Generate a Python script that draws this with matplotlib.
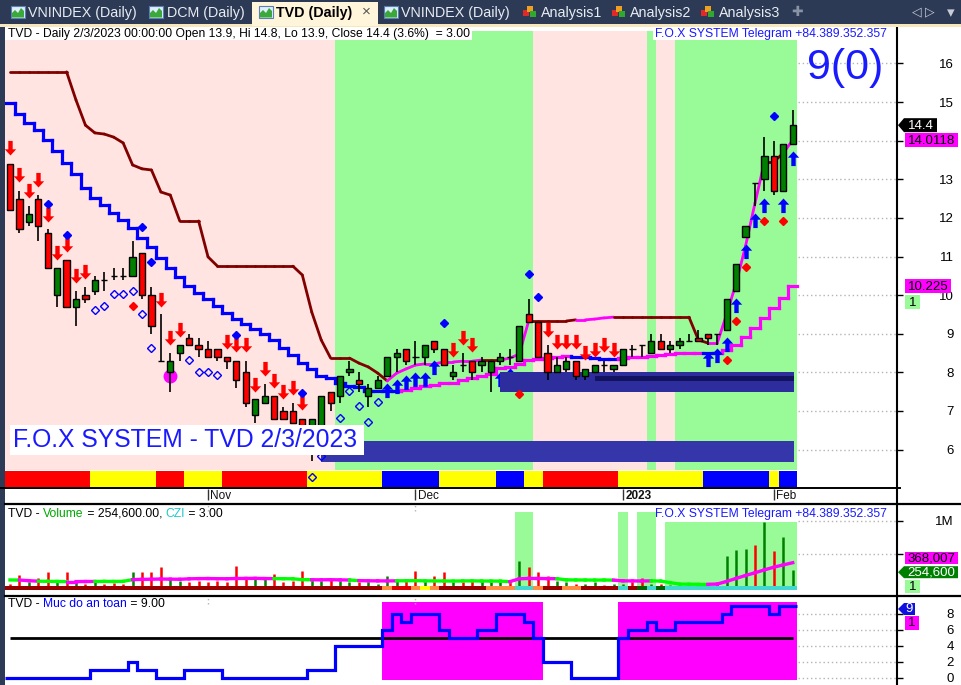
import numpy as np
import matplotlib
matplotlib.use("Agg")
import matplotlib.pyplot as plt
from matplotlib.patches import Rectangle, Polygon
from matplotlib.path import Path
from matplotlib.markers import MarkerStyle
from matplotlib.collections import LineCollection
from matplotlib.lines import Line2D
from matplotlib.transforms import IdentityTransform

plt.rcParams['font.family'] = ['Liberation Sans', 'DejaVu Sans']

# ---------------------------------------------------------------- data
month_pos = [21, 43, 65, 81]
month_labels = ['Nov', 'Dec', '2023', 'Feb']

opens = [13.4, 12.5, 11.9, 12.5, 11.6, 10.0, 10.9, 9.7, 10.0, 10.1,
         10.4, 10.5, 10.5, 10.5, 11.1, 10.0, 8.3, 8.0, 8.5, 8.9,
         8.7, 8.6, 8.6, 8.4, 8.3, 8.0, 6.9, 7.2, 7.4, 7.0,
         7.0, 6.8, 6.1, 6.6, 7.5, 7.4, 8.0, 7.8, 7.4, 7.6,
         7.9, 8.4, 8.6, 8.4, 8.4, 8.8, 8.6, 7.9, 8.2, 8.3,
         8.2, 8.0, 8.3, 8.4, 8.3, 9.5, 9.3, 8.5, 8.0, 8.1,
         8.3, 7.9, 8.0, 8.2, 8.1, 8.2, 8.6, 8.7, 8.5, 8.8,
         8.6, 8.7, 8.8, 8.9, 9.0, 9.0, 9.1, 10.1, 11.5, 12.9,
         13.0, 13.6, 12.7, 13.9]
highs = [13.4, 12.7, 12.3, 12.6, 11.7, 10.7, 10.9, 10.1, 10.2, 10.5,
         10.6, 10.7, 10.7, 11.4, 11.1, 10.2, 9.5, 8.5, 8.7, 9.0,
         8.9, 8.8, 8.6, 8.4, 8.3, 8.3, 7.3, 7.7, 7.4, 7.1,
         7.2, 6.8, 6.8, 7.4, 7.5, 7.9, 8.3, 8.0, 7.7, 7.9,
         8.4, 8.6, 8.6, 8.8, 8.7, 8.8, 8.6, 8.2, 8.5, 8.3,
         8.4, 8.3, 8.5, 8.6, 9.2, 9.9, 9.3, 8.7, 8.4, 8.4,
         8.3, 8.1, 8.2, 8.3, 8.2, 8.6, 8.7, 8.7, 9.0, 9.0,
         8.8, 8.9, 9.0, 9.1, 9.0, 9.0, 9.9, 10.8, 11.8, 12.9,
         14.1, 14.0, 13.9, 14.8]
lows = [12.2, 11.6, 11.8, 11.4, 10.7, 9.7, 9.7, 9.2, 9.8, 10.0,
        10.1, 10.4, 10.4, 10.5, 9.9, 9.0, 8.3, 7.5, 8.3, 8.7,
        8.4, 8.4, 8.3, 8.1, 7.6, 7.1, 6.7, 7.2, 6.8, 6.8,
        6.7, 6.2, 5.7, 6.5, 7.0, 7.2, 7.9, 7.5, 7.1, 7.6,
        7.9, 8.0, 8.2, 8.2, 8.2, 8.5, 8.2, 7.8, 8.0, 7.8,
        8.0, 7.5, 8.2, 8.2, 8.3, 9.3, 8.4, 7.8, 8.0, 8.0,
        7.8, 7.8, 8.0, 8.0, 8.0, 8.2, 8.4, 8.4, 8.5, 8.6,
        8.5, 8.6, 8.8, 8.8, 8.7, 8.7, 9.1, 10.1, 11.5, 12.3,
        12.7, 12.6, 12.7, 13.9]
closes = [12.2, 11.7, 12.1, 11.8, 10.7, 10.7, 9.7, 9.9, 9.9, 10.4,
          10.4, 10.5, 10.5, 11.0, 10.0, 9.2, 8.3, 8.3, 8.7, 8.7,
          8.6, 8.4, 8.4, 8.3, 7.8, 7.2, 7.3, 7.4, 6.8, 6.8,
          6.7, 6.3, 6.8, 7.4, 7.2, 7.9, 8.1, 7.7, 7.6, 7.8,
          8.4, 8.5, 8.3, 8.4, 8.7, 8.6, 8.2, 8.0, 8.2, 8.0,
          8.3, 8.3, 8.4, 8.4, 9.2, 9.3, 8.4, 8.0, 8.2, 8.3,
          7.9, 8.1, 8.2, 8.2, 8.2, 8.6, 8.6, 8.7, 8.8, 8.6,
          8.7, 8.8, 8.8, 8.8, 8.9, 9.0, 9.9, 10.8, 11.8, 12.9,
          13.6, 12.7, 13.9, 14.4]
volume = [40000, 180000, 80000, 140000, 230000, 90000, 230000, 60000, 50000, 70000,
          40000, 60000, 50000, 220000, 220000, 230000, 300000, 100000, 90000, 70000,
          90000, 70000, 90000, 70000, 320000, 140000, 120000, 140000, 190000, 70000,
          90000, 240000, 140000, 90000, 120000, 90000, 70000, 80000, 70000, 50000,
          170000, 120000, 90000, 240000, 90000, 170000, 220000, 70000, 70000, 90000,
          90000, 70000, 70000, 90000, 400000, 300000, 230000, 170000, 90000, 70000,
          50000, 40000, 70000, 30000, 40000, 50000, 70000, 130000, 50000, 40000,
          30000, 30000, 40000, 40000, 50000, 70000, 470000, 560000, 580000, 630000,
          980000, 550000, 760000, 254600]
volume_ma = [107000, 105000, 96000, 88000, 86000, 84000, 82000, 82000, 83000, 84000,
             85000, 84000, 86000, 112000, 116000, 118000, 121000, 119000, 117000, 124000,
             127000, 128000, 126000, 125000, 129000, 130000, 131000, 128000, 127000, 126000,
             124000, 112000, 110000, 109000, 111000, 108000, 106000, 97000, 94000, 93000,
             92000, 94000, 95000, 96000, 93000, 92000, 91000, 90000, 92000, 93000,
             91000, 90000, 89000, 81000, 124000, 130000, 129000, 127000, 126000, 108000,
             107000, 106000, 105000, 106000, 104000, 93000, 92000, 91000, 93000, 90000,
             66000, 44000, 42000, 41000, 41000, 45000, 85000, 130000, 175000, 215000,
             260000, 300000, 335000, 368007]
volume_ma_mode = "LMMLLLMMMLLLLMMMMMMMMMMMMMMMLLLLMMMMLMMMMLLLLLLLLLLLLMMMMMLLLLLLMMMMLLLLLLMMMMMMMMMM"

# trailing stop line (K = resistance above price, M = support below price)
trail = [15.78, 15.78, 15.78, 15.78, 15.78, 15.78, 15.78, 15.05, 14.40, 14.20,
         14.17, 14.09, 13.94, 13.37, 13.27, 13.24, 12.67, 12.59, 11.92, 11.92,
         11.92, 10.99, 10.75, 10.75, 10.75, 10.75, 10.75, 10.75, 10.75, 10.75,
         10.75, 10.52, 9.56, 8.84, 8.37, 8.37, 8.37, 8.24, 8.14, 7.98,
         7.78, 7.98, 8.09, 8.19, 8.22, 8.22, 8.27, 8.27, 8.29, 8.29,
         8.32, 8.32, 8.32, 8.37, 8.47, 9.33, 9.33, 9.33, 9.33, 9.33,
         9.36, 9.36, 9.38, 9.41, 9.43, 9.43, 9.43, 9.43, 9.43, 9.43,
         9.43, 9.43, 9.43, 8.84, 8.76, 8.76, 9.51, 10.31, 11.27, 12.38,
         13.45, 13.45, 13.68, 14.0118]
trail_mode = "KKKKKKKKKKKKKKKKKKKKKKKKKKKKKKKKKKKKKKKKMMMMMMMMMMKKMMMKKKKKMMMMKKKKKKKKKKMMMMMMKKMM"

# stepped average line (B = blue, M = magenta)
base_line = [14.97, 14.69, 14.46, 14.28, 14.02, 13.73, 13.42, 13.14, 12.77, 12.51,
             12.33, 12.13, 11.95, 11.74, 11.48, 11.25, 10.96, 10.70, 10.47, 10.24,
             10.06, 9.90, 9.72, 9.54, 9.38, 9.25, 9.12, 8.99, 8.84, 8.63,
             8.45, 8.24, 8.09, 7.91, 7.85, 7.72, 7.65, 7.62, 7.52, 7.52,
             7.52, 7.52, 7.54, 7.60, 7.65, 7.67, 7.72, 7.72, 7.80, 7.85,
             7.91, 7.96, 8.11, 8.14, 8.22, 8.32, 8.35, 8.37, 8.40, 8.42,
             8.40, 8.40, 8.37, 8.35, 8.35, 8.37, 8.40, 8.40, 8.42, 8.45,
             8.47, 8.50, 8.50, 8.50, 8.50, 8.50, 8.58, 8.71, 8.92, 9.15,
             9.41, 9.67, 9.93, 10.225]
base_mode = "BBBBBBBBBBBBBBBBBBBBBBBBBBBBBBBBBBBBBBBBBBMMMMMMMMMMMMMMMMMMBBBBBMMMMMMMMMBBMMMMMMMM"

# background regimes
price_bg = "PPPPPPPPPPPPPPPPPPPPPPPPPPPPPPPPPPPGGGGGGGGGGGGGGGGGGGGGPPPPPPPPPPPPGPPGGGGGGGGGGGGG"
trend_strip = "RRRRRRRRRYYYYYYYRRRYYYYRRRRRRRRRYYYYYYYYBBBBBBYYYYYYBBBYYRRRRRRRRYYYYYYYYYBBBBBBBYBB"
volume_bg = "......................................................ss.........s.ss.bbbbbbbbbbbbbb"
volume_strip = ("DDDDDDDDDDDDDDDDDDDDDDDDDDDDDDDDDDDDDDDD" "ORROYO" "DDDDD" "OOO" "CC" "O" "DD"
                "OO" "DDDD" "C" "D" "G" "C" "G" "CCCCCCCCCCCCCC")
safety = [0, 0, 0, 0, 0, 0, 0, 0, 0, 1, 1, 1, 1, 2, 1, 1, 0, 0, 0, 1,
          1, 1, 1, 0, 0, 0, 0, 0, 0, 0, 0, 0, 1, 1, 1, 4, 4, 4, 4, 4,
          6, 8, 7, 8, 8, 8, 6, 5, 5, 5, 6, 6, 8, 8, 8, 7, 5, 2, 2, 2,
          0, 0, 0, 0, 0, 5, 6, 6, 7, 6, 6, 7, 7, 7, 7, 7, 8, 9, 9, 9,
          9, 8, 9, 9]
safety_bg = "........................................sssssssssssssssss........sssssssssssssssssss"

# signals
sell_bars = [0, 1, 2, 3, 4, 5, 6, 7, 8, 16, 17, 18, 23, 24, 25, 26, 27, 28, 29, 30, 31,
             47, 48, 49, 57, 58, 59, 60, 61, 62, 63, 64]
sell_tips = [13.63, 12.93, 12.51, 12.80, 11.89, 10.91, 11.12, 10.31, 10.42, 9.69, 8.71, 8.92,
             8.61, 8.53, 8.53, 7.49, 7.91, 7.59, 7.31, 7.41, 7.03,
             8.40, 8.71, 8.53, 8.92, 8.61, 8.61, 8.61, 8.32, 8.40, 8.53, 8.40]
buy_bars = [40, 41, 42, 43, 44, 45, 52, 53, 74, 75, 76, 77, 78, 79, 80, 82, 83]
buy_tips = [7.72, 7.83, 7.93, 8.01, 8.01, 8.32, 8.01, 8.11, 8.53, 8.63, 8.92, 9.93,
            11.32, 12.13, 12.51, 12.51, 13.73]
blue_dot_bars = [4, 6, 14, 15, 24, 31, 46, 55, 56, 81]
blue_dot_vals = [12.36, 11.56, 11.76, 10.86, 8.97, 7.47, 9.28, 10.55, 9.95, 14.64]
red_dot_bars = [13, 54, 76, 77, 78, 80, 82]
red_dot_vals = [9.72, 7.44, 8.32, 9.33, 10.73, 11.92, 11.92]
ring_bars = [9, 10, 11, 12, 13, 14, 15, 19, 20, 21, 22, 32, 33, 35, 36, 37, 38, 39]
ring_vals = [9.62, 9.72, 10.03, 10.03, 10.10, 9.51, 8.63, 8.32, 8.01, 8.01, 7.93,
             5.29, 5.83, 6.82, 7.52, 7.13, 6.71, 7.23]
bottom_bar, bottom_val = 17, 7.91

# supply / demand zones: (first bar, last bar, low, high)
zone_low = (33, 83.15, 5.68, 6.22)
zone_high = (52, 83.15, 7.49, 8.00)
zone_core = (62, 83.15, 7.78, 7.91)

# ---------------------------------------------------------------- layout
W, H, DPI = 961, 685, 100
fig = plt.figure(figsize=(W / DPI, H / DPI), dpi=DPI)
fig.patch.set_facecolor('white')
ID = IdentityTransform()

PINK, GREEN = '#ffe4e1', '#98fb98'
NAVY = '#2c3a55'
BLUE_TXT = '#1a1aff'
MAG = '#ff00ff'
MAROON = '#800000'

n = len(closes)
idx = np.arange(n)
o, h, l, c = map(np.array, (opens, highs, lows, closes))
XLIM = (-0.53, 94.06)
grid_from = (83.6 - XLIM[0]) / (XLIM[1] - XLIM[0])


def add_ax(top, bottom):
    ax = fig.add_axes([5 / W, 1 - bottom / H, 892 / W, (bottom - top) / H])
    ax.set_xlim(*XLIM)
    for s in ('left', 'top', 'bottom'):
        ax.spines[s].set_visible(False)
    ax.spines['right'].set_linewidth(1.5)
    ax.set_xticks([])
    ax.yaxis.tick_right()
    ax.tick_params(axis='y', direction='out', length=4, width=1, pad=37,
                   labelsize=9.5, colors='black')
    return ax


def px_rect(x0, y0, x1, y1, **kw):
    fig.add_artist(Rectangle((x0, H - y1), x1 - x0, y1 - y0, transform=ID, **kw))


def px_poly(pts, **kw):
    fig.add_artist(Polygon([(x, H - y) for x, y in pts], closed=True, transform=ID, **kw))


def px_text(x, y, s, **kw):
    kw.setdefault('va', 'center')
    return fig.text(x, H - y, s, transform=ID, **kw)


def ypix(ax, v):
    return H - ax.transData.transform((0, v))[1]


def tag(x0, x1, yc, hgt, text, fc, tc, arrow=False, size=9.5):
    y0, y1 = yc - hgt / 2, yc + hgt / 2
    if arrow:
        px_poly([(x0, yc), (x0 + 6, y0), (x1, y0), (x1, y1), (x0 + 6, y1)], fc=fc, lw=0)
        tx = (x0 + 6 + x1) / 2
    else:
        px_poly([(x0, y0), (x1, y0), (x1, y1), (x0, y1)], fc=fc, lw=0)
        tx = (x0 + x1) / 2
    px_text(tx, yc + 0.5, text, color=tc, fontsize=size, ha='center')


def text_run(x, y, parts, size):
    r = fig.canvas.get_renderer()
    for s, col in parts:
        t = px_text(x, y, s, color=col, fontsize=size, ha='left')
        x = t.get_window_extent(renderer=r).x1


def runs(codes):
    out, start = [], 0
    for i in range(1, len(codes) + 1):
        if i == len(codes) or codes[i] != codes[start]:
            out.append((start, i - 1, codes[start]))
            start = i
    return out


# ---------------------------------------------------------------- price pane
ax = add_ax(27, 503)
ax.set_ylim(4.618, 16.942)
ax.set_yticks(range(6, 17))
# the 14 label sits under the trailing-line value tag
ax.set_yticklabels([str(v) if v != 14 else '' for v in range(6, 17)])
plt.setp(ax.get_yticklabels(), ha='right')

for v in range(6, 17):
    ax.axhline(v, xmin=grid_from, xmax=1, color='#b4b4b4', lw=1, ls=(0, (1, 2)), zorder=0.5)

for a, b, code in runs(price_bg):
    ax.add_patch(Rectangle((a - 0.5, 5.47), b - a + 1, 16.84 - 5.47,
                           fc=PINK if code == 'P' else GREEN, lw=0, zorder=1))

strip_cols = {'R': '#ff0000', 'Y': '#ffff00', 'B': '#0000ff'}
ax.bar(idx, 0.42, bottom=5.03, width=1.0, color=[strip_cols[k] for k in trend_strip],
       linewidth=0, zorder=1.5)

# stepped average
segs, cols = [], []
bcol = {'B': '#0000ff', 'M': MAG}
for i in range(n):
    segs.append([(i - 0.5, base_line[i]), (i + 0.5, base_line[i])])
    cols.append(bcol[base_mode[i]])
    if i > 0:
        segs.append([(i - 0.5, base_line[i - 1]), (i - 0.5, base_line[i])])
        cols.append(bcol[base_mode[i]])
ax.add_collection(LineCollection(segs, colors=cols, linewidths=2.3, capstyle='projecting', zorder=3))

# trailing line
tcol = {'K': MAROON, 'M': MAG}
segs = [[(i, trail[i]), (i + 1, trail[i + 1])] for i in range(n - 1)]
ax.add_collection(LineCollection(segs, colors=[tcol[trail_mode[i]] for i in range(n - 1)],
                                 linewidths=2.0, capstyle='round', zorder=3.2))

# arrows
down = Path([(0, 0), (0.78, 0.85), (0.3, 0.85), (0.3, 2), (-0.3, 2), (-0.3, 0.85),
             (-0.78, 0.85), (0, 0)],
            [Path.MOVETO] + [Path.LINETO] * 6 + [Path.CLOSEPOLY])
up = Path(down.vertices * np.array([1, -1]), down.codes)
ax.plot(sell_bars, sell_tips, ls='none', marker=MarkerStyle(down), ms=21,
        color='#ff0000', mew=0, zorder=3.5)
ax.plot(buy_bars, buy_tips, ls='none', marker=MarkerStyle(up), ms=21,
        color='#0000ff', mew=0, zorder=3.5)

# zones
for (a, b, lo, hi), fc in ((zone_low, '#3636ab'), (zone_high, '#2d2d9e'), (zone_core, '#12125e')):
    ax.add_patch(Rectangle((a, lo), b - a, hi - lo, fc=fc, lw=0, zorder=4))

# candles
ax.vlines(idx, l, h, color='black', lw=1.2, zorder=5)
body_cols = np.where(c > o, '#008000', '#ff0000')
ax.bar(idx, np.abs(c - o), bottom=np.minimum(o, c), width=0.66, color=body_cols,
       edgecolor='black', linewidth=1.0, zorder=6)

# dots
ax.plot(blue_dot_bars, blue_dot_vals, ls='none', marker='D', ms=3.6, color='#0000ff', zorder=7)
ax.plot(red_dot_bars, red_dot_vals, ls='none', marker='D', ms=3.6, color='#ff0000', zorder=7)
ax.plot(ring_bars, ring_vals, ls='none', marker='D', ms=3.8, mfc='none', mec='#0000ff',
        mew=1.0, zorder=7)
ax.plot([bottom_bar], [bottom_val], ls='none', marker='o', ms=9, color=MAG, zorder=4.5)

# month scale
ax.vlines(month_pos, 4.98, 4.70, color='#333333', lw=1, zorder=5)
for p, lab in zip(month_pos, month_labels):
    ax.text(p + 0.25, 4.80, lab, fontsize=8.5, ha='left', va='center',
            fontweight='bold' if lab == '2023' else 'normal', color='#111111')

# ---------------------------------------------------------------- volume pane
axv = add_ax(505, 595)
axv.set_ylim(-121000, 1242000)
axv.set_yticks([500000, 1000000])
axv.set_yticklabels(['', '1M'])
plt.setp(axv.get_yticklabels(), ha='right')
for v in (500000, 1000000):
    axv.axhline(v, xmin=grid_from, xmax=1, color='#b4b4b4', lw=1, ls=(0, (1, 2)), zorder=0.5)
for a, b, code in runs(volume_bg):
    if code == '.':
        continue
    top = 1140000 if code == 's' else 985000
    axv.add_patch(Rectangle((a - 0.5, -45000), b - a + 1, top + 45000, fc=GREEN, lw=0, zorder=1))
vcols = np.where(c > o, '#008000', '#ff0000')
axv.vlines(idx, 0, volume, colors=vcols, lw=1.8, zorder=3)
vs_cols = {'D': '#990000', 'R': '#e00000', 'O': '#ff8c40', 'Y': '#ffff00',
           'C': '#40d8d0', 'G': '#006400'}
axv.bar(idx, 67000, bottom=-45000, width=1.0, color=[vs_cols[k] for k in volume_strip],
        linewidth=0, zorder=3.5)
mcol = {'L': '#00ff00', 'M': MAG}
segs = [[(i, volume_ma[i]), (i + 1, volume_ma[i + 1])] for i in range(n - 1)]
axv.add_collection(LineCollection(segs, colors=[mcol[volume_ma_mode[i]] for i in range(n - 1)],
                                  linewidths=2.4, capstyle='projecting', zorder=4))

# ---------------------------------------------------------------- safety pane
axs = add_ax(597, 685)
axs.set_ylim(-0.875, 10.125)
axs.set_yticks([0, 2, 4, 6, 8])
plt.setp(axs.get_yticklabels(), ha='right')
for v in (0, 2, 4, 6, 8):
    axs.axhline(v, xmin=grid_from, xmax=1, color='#b4b4b4', lw=1, ls=(0, (1, 2)), zorder=0.5)
for a, b, code in runs(safety_bg):
    if code == 's':
        axs.add_patch(Rectangle((a - 0.5, -0.25), b - a + 1, 9.75, fc=MAG, lw=0, zorder=1))
axs.hlines(5, 0, n - 1, color='black', lw=2, zorder=2)
axs.stairs(safety, np.arange(n + 1) - 0.5, baseline=None, color='#0000ff', lw=2.3, zorder=3)
for p in month_pos[:2]:
    axs.vlines(p, 9.3, 10.1, color='#b4b4b4', lw=1, ls=(0, (1, 2)))
    axv.vlines(p, 1150000, 1240000, color='#b4b4b4', lw=1, ls=(0, (1, 2)))

# ---------------------------------------------------------------- frame, separators
px_rect(0, 0, W, 25, fc=NAVY, lw=0)
px_rect(0, 24, W, 27, fc='#f6e7bd', lw=0)
px_rect(0, 27, 5, H, fc=NAVY, lw=0)
fig.add_artist(Line2D([0, 900], [H - 488, H - 488], transform=ID, color='black', lw=1.4))
for yy in (504, 596):
    fig.add_artist(Line2D([5, 961], [H - yy, H - yy], transform=ID, color='black', lw=1.6))

# tabs
px_rect(252, 2, 378, 26, fc='#fff5da', lw=0)


def chart_icon(x):
    px_rect(x, 6, x + 14, 18, fc='#dfeefc', ec='#5a7fb4', lw=0.8)
    px_poly([(x + 1, 17.5), (x + 1, 13), (x + 4, 10), (x + 7, 13), (x + 10, 8),
             (x + 13, 11), (x + 13, 17.5)], fc='#3aa83a', lw=0)


def cube_icon(x):
    px_rect(x, 10, x + 6, 16, fc='#e02a2a', lw=0)
    px_rect(x + 4, 6, x + 10, 12, fc='#f0a020', lw=0)
    px_rect(x + 7, 11, x + 13, 17, fc='#2eaa2e', lw=0)


TAB_TXT = '#e8ecf2'
chart_icon(11)
px_text(28, 13, 'VNINDEX (Daily)', color=TAB_TXT, fontsize=10.3)
chart_icon(149)
px_text(167, 13, 'DCM (Daily)', color=TAB_TXT, fontsize=10.3)
chart_icon(259)
px_text(276, 13, 'TVD (Daily)', color='black', fontsize=10.3, fontweight='bold')
px_text(362, 12, '×', color='#555555', fontsize=11)
chart_icon(384)
px_text(401, 13, 'VNINDEX (Daily)', color=TAB_TXT, fontsize=10.3)
cube_icon(523)
px_text(541, 13, 'Analysis1', color=TAB_TXT, fontsize=10.3)
cube_icon(612)
px_text(630, 13, 'Analysis2', color=TAB_TXT, fontsize=10.3)
cube_icon(701)
px_text(719, 13, 'Analysis3', color=TAB_TXT, fontsize=10.3)
px_text(797, 12, '✚', color='#8a93a5', fontsize=10, ha='center', family='DejaVu Sans')
px_text(912, 12, '◁', color='#c8ccd6', fontsize=9, family='DejaVu Sans')
px_text(925, 12, '▷', color='#c8ccd6', fontsize=9, family='DejaVu Sans')
px_text(947, 13, '▾', color='#c8ccd6', fontsize=11, family='DejaVu Sans')

# pane captions
px_rect(5, 27, 472, 40, fc='white', lw=0)
px_text(8, 34, 'TVD - Daily 2/3/2023 00:00:00 Open 13.9, Hi 14.8, Lo 13.9, Close 14.4 (3.6%)  = 3.00',
        color='black', fontsize=8.7)
px_rect(653, 27, 887, 40, fc='white', lw=0)
px_text(655, 34, 'F.O.X SYSTEM Telegram +84.389.352.357', color=BLUE_TXT, fontsize=8.7)
px_text(845, 68, '9(0)', color=BLUE_TXT, fontsize=31, ha='center')
px_rect(10, 425, 364, 455, fc='white', lw=0)
px_text(13, 440, 'F.O.X SYSTEM - TVD 2/3/2023', color=BLUE_TXT, fontsize=17.8)

text_run(8, 514, [('TVD - ', 'black'), ('Volume', '#00a800'), (' = 254,600.00, ', 'black'),
                  ('CZI', '#20c8c8'), (' = 3.00', 'black')], 8.7)
px_text(655, 514, 'F.O.X SYSTEM Telegram +84.389.352.357', color=BLUE_TXT, fontsize=8.7)
text_run(8, 604, [('TVD - ', 'black'), ('Muc do an toan', '#0000ff'), (' = 9.00', 'black')], 8.7)

# value tags on the right scales
yc = ypix(ax, closes[-1])
tag(898, 937, yc, 14, '14.4', 'black', 'white', arrow=True)
tag(905, 958, ypix(ax, trail[-1]), 14, '14.0118', MAG, 'black')
y_b = ypix(ax, base_line[-1])
tag(905, 951, y_b, 14, '10.225', MAG, 'black')
tag(905, 920, y_b + 16, 14, '1', GREEN, 'black')

y_v = ypix(axv, volume[-1])
tag(898, 958, y_v + 2, 12, '254,600', '#008000', 'white', arrow=True)
tag(905, 958, ypix(axv, volume_ma[-1]) - 5, 12, '368,007', MAG, 'black')
tag(905, 920, y_v + 16, 13, '1', GREEN, 'black')

y_s = ypix(axs, safety[-1])
tag(898, 915, y_s + 3, 12, '9', '#1010e0', 'white', arrow=True)
tag(905, 919, y_s + 17, 14, '1', MAG, '#200020')

fig.savefig('out.png', dpi=DPI, facecolor='white')
